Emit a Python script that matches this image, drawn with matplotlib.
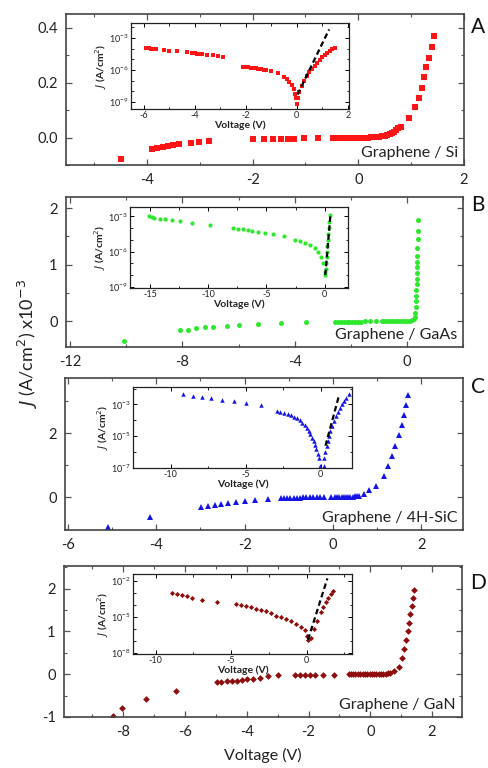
import numpy as np
import matplotlib.pyplot as plt
from matplotlib.ticker import MultipleLocator, FixedLocator, NullFormatter

plt.rcParams['font.family'] = ['Lato', 'DejaVu Sans']
plt.rcParams['axes.unicode_minus'] = False

# ---- Panel A: Graphene / Si (main, linear, J x10^-3) ----
a_v = [-4.49, -3.9, -3.8, -3.7, -3.6, -3.5, -3.4, -3.17, -3.02, -2.83,
       -2.0, -1.79, -1.62, -1.46, -1.33, -1.22, -1.03, -0.76,
       -0.48, -0.42, -0.36, -0.30, -0.24, -0.18, -0.12, -0.06, 0.0, 0.06, 0.12, 0.18,
       0.24, 0.30, 0.35, 0.40, 0.45, 0.50, 0.55, 0.60, 0.64, 0.68, 0.72, 0.76, 0.8,
       0.95, 1.07, 1.14, 1.2, 1.25, 1.29, 1.34, 1.39, 1.43]
a_j = [-0.077, -0.04, -0.037, -0.033, -0.03, -0.026, -0.022, -0.02, -0.017, -0.011,
       -0.005, -0.005, -0.005, -0.004, -0.004, -0.004, -0.003, -0.003,
       -0.002, -0.002, -0.002, -0.001, -0.001, -0.001, 0.0, 0.0, 0.0, 0.0, 0.0, 0.0,
       0.001, 0.001, 0.002, 0.003, 0.004, 0.006, 0.009, 0.013, 0.017, 0.022, 0.027, 0.033, 0.04,
       0.073, 0.11, 0.143, 0.18, 0.22, 0.257, 0.29, 0.33, 0.37]
# inset A (log10 of J in A/cm^2)
ai_v = [-5.9, -5.8, -5.7, -5.6, -5.5, -5.2, -5.0, -4.7, -4.3, -4.1, -4.0, -3.9, -3.8,
        -3.7, -3.5, -3.3, -3.1, -2.9,
        -2.1, -2.0, -1.9, -1.8, -1.7, -1.6, -1.5, -1.4, -1.3, -1.2, -1.0, -0.75,
        -0.5, -0.4, -0.3, -0.2, -0.12, -0.06, -0.02, 0.0,
        0.05, 0.1, 0.2, 0.3, 0.4, 0.5, 0.6, 0.7, 0.8, 0.9, 1.0, 1.1, 1.2, 1.3, 1.4, 1.5]
ai_log = [-3.95, -3.98, -4.0, -4.03, -4.06, -4.13, -4.18, -4.26, -4.36, -4.42, -4.44, -4.47, -4.5,
          -4.52, -4.57, -4.62, -4.68, -4.75,
          -5.7, -5.72, -5.75, -5.78, -5.81, -5.84, -5.88, -5.92, -5.96, -6.0, -6.1, -6.3,
          -6.65, -6.85, -7.1, -7.45, -7.8, -8.2, -8.6, -9.2,
          -8.6, -8.1, -7.5, -7.0, -6.6, -6.2, -5.9, -5.6, -5.3, -5.05, -4.8, -4.6, -4.4, -4.2, -4.05, -3.9]
ai_fit_v = [0.03, 1.27]
ai_fit_log = [-8.3, -2.2]

# ---- Panel B: Graphene / GaAs ----
b_v = [-10.1, -8.08, -7.8, -7.5, -7.2, -6.9, -6.4, -6.0, -5.3, -4.5, -3.6,
       -2.55, -2.45, -2.35, -2.25, -2.15, -2.05, -1.95, -1.85, -1.75, -1.65, -1.5, -1.3, -1.1,
       -0.9, -0.8, -0.7, -0.6, -0.5, -0.4, -0.3, -0.2, -0.1, 0.0, 0.1, 0.2,
       0.25, 0.28, 0.3, 0.31, 0.32, 0.33, 0.34, 0.345, 0.35, 0.355, 0.36, 0.365, 0.37,
       0.375, 0.38, 0.385, 0.39]
b_j = [-0.35, -0.16, -0.15, -0.13, -0.11, -0.1, -0.09, -0.07, -0.05, -0.04, -0.02,
       -0.012, -0.012, -0.011, -0.011, -0.01, -0.01, -0.009, -0.009, -0.008, -0.008, -0.007, -0.006, -0.005,
       -0.004, -0.004, -0.003, -0.003, -0.002, -0.002, -0.001, -0.001, 0.0, 0.0, 0.005, 0.012,
       0.03, 0.08, 0.15, 0.25, 0.35, 0.45, 0.55, 0.65, 0.75, 0.85, 0.95, 1.05, 1.15,
       1.3, 1.45, 1.6, 1.8]
bi_v = [-15.1, -14.8, -14.6, -14.1, -13.7, -13.1, -12.4, -11.4, -9.85,
        -7.9, -7.45, -7.0, -6.6, -6.2, -5.7, -5.1, -4.4, -3.5,
        -2.57, -2.14, -1.71, -1.29, -0.86, -0.57, -0.29, -0.14, 0.0, 0.05,
        0.08, 0.12, 0.16, 0.2, 0.24, 0.28, 0.32, 0.36, 0.4, 0.45]
bi_log = [-3.0, -3.05, -3.1, -3.2, -3.25, -3.34, -3.42, -3.56, -3.76,
          -3.99, -4.04, -4.1, -4.16, -4.21, -4.32, -4.41, -4.52, -4.69,
          -4.97, -5.11, -5.26, -5.45, -5.73, -6.0, -6.44, -7.0, -7.7, -8.0,
          -7.5, -7.0, -6.5, -6.0, -5.5, -5.0, -4.5, -4.0, -3.5, -2.9]
bi_fit_v = [0.05, 0.5]
bi_fit_log = [-8.0, -2.8]

# ---- Panel C: Graphene / 4H-SiC ----
c_v = [-5.1, -4.15, -2.98, -2.83, -2.68, -2.53, -2.38, -2.19, -1.98, -1.76, -1.47,
       -1.17, -1.1, -1.03, -0.96, -0.89, -0.82, -0.75, -0.68, -0.6, -0.52, -0.44, -0.36, -0.28, -0.2,
       -0.05, 0.05, 0.1, 0.15, 0.2, 0.25, 0.3, 0.35, 0.4, 0.45, 0.5, 0.55, 0.6,
       0.71, 0.82, 0.97, 1.16, 1.25, 1.35, 1.42, 1.5, 1.56, 1.61, 1.65, 1.7]
c_j = [-0.93, -0.61, -0.3, -0.28, -0.26, -0.22, -0.2, -0.17, -0.13, -0.09, -0.05,
       -0.02, -0.02, -0.02, -0.02, -0.015, -0.015, -0.015, -0.01, -0.01, -0.01, -0.01, -0.005, -0.005, 0.0,
       0.0, 0.0, 0.0, 0.0, 0.0, 0.005, 0.005, 0.01, 0.01, 0.015, 0.02, 0.03, 0.04,
       0.09, 0.22, 0.34, 0.66, 0.97, 1.28, 1.59, 1.94, 2.25, 2.56, 2.88, 3.2]
ci_v = [-9.15, -8.5, -7.9, -7.27, -6.6, -5.8, -5.0, -3.96,
        -2.89, -2.7, -2.44, -2.2, -2.0, -1.75, -1.55, -1.4, -1.22, -1.05, -0.93, -0.8, -0.67,
        -0.55, -0.44, -0.35, -0.27, -0.2, -0.11, -0.06,
        0.2, 0.22, 0.3, 0.4, 0.48, 0.56, 0.66, 0.78, 0.9, 1.0, 1.15, 1.29, 1.42, 1.56, 1.72, 1.89]
ci_log = [-2.37, -2.48, -2.54, -2.6, -2.69, -2.77, -2.9, -3.06,
          -3.42, -3.47, -3.52, -3.6, -3.67, -3.78, -3.88, -4.0, -4.15, -4.3, -4.46, -4.66, -4.88,
          -5.08, -5.3, -5.55, -5.81, -6.1, -6.4, -6.85,
          -6.85, -6.4, -6.0, -5.6, -5.3, -4.98, -4.65, -4.36, -4.05, -3.73, -3.45, -3.2, -2.98, -2.79, -2.58, -2.37]
ci_fit_v = [0.33, 1.22]
ci_fit_log = [-5.6, -2.48]

# ---- Panel D: Graphene / GaN ----
d_v = [-8.33, -8.04, -7.25, -6.28, -4.98, -4.82, -4.65, -4.49, -4.33, -4.17, -4.0, -3.79, -3.57,
       -3.3, -2.98, -2.43, -2.27, -2.11, -1.95, -1.79, -1.52, -1.19,
       -0.7, -0.62, -0.55, -0.48, -0.4, -0.32, -0.25, -0.18, -0.1, -0.02, 0.05, 0.12, 0.2,
       0.28, 0.35, 0.42, 0.5, 0.58, 0.65,
       0.76, 0.92, 1.03, 1.1, 1.17, 1.21, 1.26, 1.3, 1.34, 1.39, 1.43]
d_j = [-0.97, -0.78, -0.58, -0.39, -0.19, -0.18, -0.17, -0.16, -0.15, -0.13, -0.12, -0.1, -0.09,
       -0.05, -0.02, -0.01, -0.01, -0.01, -0.01, -0.01, -0.01, -0.01,
       -0.005, -0.005, -0.005, -0.004, -0.004, -0.003, -0.003, -0.002, -0.002, -0.001, 0.0, 0.0, 0.0,
       0.002, 0.004, 0.008, 0.015, 0.025, 0.04,
       0.08, 0.16, 0.39, 0.58, 0.81, 1.01, 1.2, 1.4, 1.59, 1.78, 1.98]
di_v = [-8.9, -8.56, -8.23, -7.9, -7.57, -6.9, -5.91,
        -4.7, -4.37, -4.04, -3.71, -3.38, -3.05, -2.72, -2.38, -2.05, -1.72, -1.39,
        -1.06, -0.73, -0.4, -0.13, 0.04, 0.09,
        0.26, 0.48, 0.71, 0.93, 1.1, 1.26, 1.42, 1.59, 1.77]
di_log = [-2.99, -3.1, -3.19, -3.27, -3.38, -3.55, -3.75,
          -3.95, -4.03, -4.12, -4.2, -4.31, -4.4, -4.51, -4.69, -4.88, -5.03, -5.2,
          -5.36, -5.58, -5.81, -6.1, -6.57, -6.94,
          -6.72, -6.0, -5.3, -4.6, -4.15, -3.75, -3.4, -3.04, -2.82]
di_fit_v = [0.09, 1.37]
di_fit_log = [-6.9, -1.77]

W, H = 488, 768
fig = plt.figure(figsize=(W / 100, H / 100), dpi=100)


def px_axes(x0, y0, x1, y1):
    # axes from pixel box (left, top, right, bottom)
    return fig.add_axes([x0 / W, 1 - y1 / H, (x1 - x0) / W, (y1 - y0) / H])


def style_main(ax, xmaj, xmin, ymaj, ymin):
    ax.xaxis.set_major_locator(MultipleLocator(xmaj))
    ax.xaxis.set_minor_locator(MultipleLocator(xmin))
    ax.yaxis.set_major_locator(MultipleLocator(ymaj))
    ax.yaxis.set_minor_locator(MultipleLocator(ymin))
    ax.tick_params(which='both', direction='in', top=True, right=True,
                   color='#555555', labelsize=10.5, labelcolor='#222222')
    ax.tick_params(which='major', length=4, width=0.9, pad=6)
    ax.tick_params(which='minor', length=2.5, width=0.8)
    for s in ax.spines.values():
        s.set_color('#444444')
        s.set_linewidth(1.2)


def style_inset(ax, xlim, ylog, xmaj, xmin, ymajors):
    ax.set_yscale('log')
    ax.set_xlim(*xlim)
    ax.set_ylim(10.0 ** ylog[0], 10.0 ** ylog[1])
    ax.xaxis.set_major_locator(MultipleLocator(xmaj))
    ax.xaxis.set_minor_locator(MultipleLocator(xmin))
    ax.yaxis.set_major_locator(FixedLocator([10.0 ** e for e in ymajors]))
    lo, hi = int(np.floor(ylog[0])), int(np.ceil(ylog[1]))
    ax.yaxis.set_minor_locator(FixedLocator([10.0 ** e for e in range(lo, hi + 1)]))
    ax.yaxis.set_minor_formatter(NullFormatter())
    ax.tick_params(which='both', direction='in', top=True, right=True,
                   labelsize=6.5, pad=1.5, labelcolor='#222222')
    ax.tick_params(which='major', length=3, width=0.7)
    ax.tick_params(which='minor', length=1.8, width=0.6)
    ax.set_xlabel('Voltage (V)', fontsize=7.5, fontweight='bold', labelpad=0, color='#222222')
    ax.set_ylabel('$J$ (A/cm$^2$)', fontsize=7.5, fontweight='bold', labelpad=0, color='#222222')
    for s in ax.spines.values():
        s.set_color('#222222')
        s.set_linewidth(0.9)


panels = [
    dict(box=(66, 14, 464, 165), v=a_v, j=a_j, iv=ai_v, il=ai_log, fv=ai_fit_v, fl=ai_fit_log,
         color='#ff1515', mk='s', ms=4.4, ims=3.2, xlim=(-5.53, 2.0), ylim=(-0.1, 0.45),
         maj=(2, 1, 0.2, 0.1), ibox=(131, 23, 349, 109), ixlim=(-6.5, 2.05), iylog=(-9.65, -1.6),
         imaj=(2, 1), iy=[-9, -6, -3], name='Graphene / Si', tag='A', tagy=27,
         yfmt='%.1f'),
    dict(box=(66, 197, 463, 347), v=b_v, j=b_j, iv=bi_v, il=bi_log, fv=bi_fit_v, fl=bi_fit_log,
         color='#2ee82e', mk='o', ms=3.6, ims=3.0, xlim=(-12.15, 2.0), ylim=(-0.46, 2.2),
         maj=(4, 2, 1, 0.5), ibox=(130, 207, 348, 288), ixlim=(-16.7, 2.0), iylog=(-9.1, -2.2),
         imaj=(5, 2.5), iy=[-9, -6, -3], name='Graphene / GaAs', tag='B', tagy=205,
         yfmt='%d'),
    dict(box=(65, 378, 463, 530), v=c_v, j=c_j, iv=ci_v, il=ci_log, fv=ci_fit_v, fl=ci_fit_log,
         color='#1414e6', mk='^', ms=4.0, ims=3.2, xlim=(-6.07, 2.95), ylim=(-1.03, 3.72),
         maj=(2, 1, 2, 1), ibox=(133, 387, 352, 468), ixlim=(-12.5, 2.1), iylog=(-7.0, -1.9),
         imaj=(5, 2.5), iy=[-7, -5, -3], name='Graphene / 4H-SiC', tag='C', tagy=387,
         yfmt='%d'),
    dict(box=(64, 566, 462, 717), v=d_v, j=d_j, iv=di_v, il=di_log, fv=di_fit_v, fl=di_fit_log,
         color='#8e0c0c', mk='D', ms=3.4, ims=2.6, xlim=(-9.92, 2.97), ylim=(-1.0, 2.53),
         maj=(2, 1, 1, 0.5), ibox=(133, 574, 352, 654), ixlim=(-11.5, 3.0), iylog=(-8.1, -1.4),
         imaj=(5, 2.5), iy=[-8, -5, -2], name='Graphene / GaN', tag='D', tagy=583,
         yfmt='%d'),
]

for p in panels:
    ax = px_axes(*p['box'])
    ax.plot(p['v'], p['j'], ls='none', marker=p['mk'], ms=p['ms'], mfc=p['color'],
            mec=p['color'], mew=0)
    ax.set_xlim(*p['xlim'])
    ax.set_ylim(*p['ylim'])
    style_main(ax, *p['maj'])
    ax.yaxis.set_major_formatter(plt.FormatStrFormatter(p['yfmt']))
    ax.text(0.985, 0.035, p['name'], transform=ax.transAxes, ha='right', va='bottom',
            fontsize=11.5, color='#222222')
    fig.text(478 / W, 1 - p['tagy'] / H, p['tag'], ha='center', va='center',
             fontsize=15, color='#111111')

    ins = px_axes(*p['ibox'])
    ins.plot(p['iv'], 10.0 ** np.array(p['il']), ls='none', marker=p['mk'],
             ms=p['ims'], mfc=p['color'], mec=p['color'], mew=0)
    ins.plot(p['fv'], 10.0 ** np.array(p['fl']), color='black', ls=(0, (2.5, 1.5)), lw=1.6)
    style_inset(ins, p['ixlim'], p['iylog'], *p['imaj'], p['iy'])

fig.text(28 / W, 1 - 343 / H, '$J$ (A/cm$^2$) x10$^{-3}$', rotation=90, ha='center',
         va='center', fontsize=13, color='#222222')
fig.text(263 / W, 1 - 755 / H, 'Voltage (V)', ha='center', va='center', fontsize=11.5,
         color='#222222')

fig.savefig('out.png', dpi=100)
